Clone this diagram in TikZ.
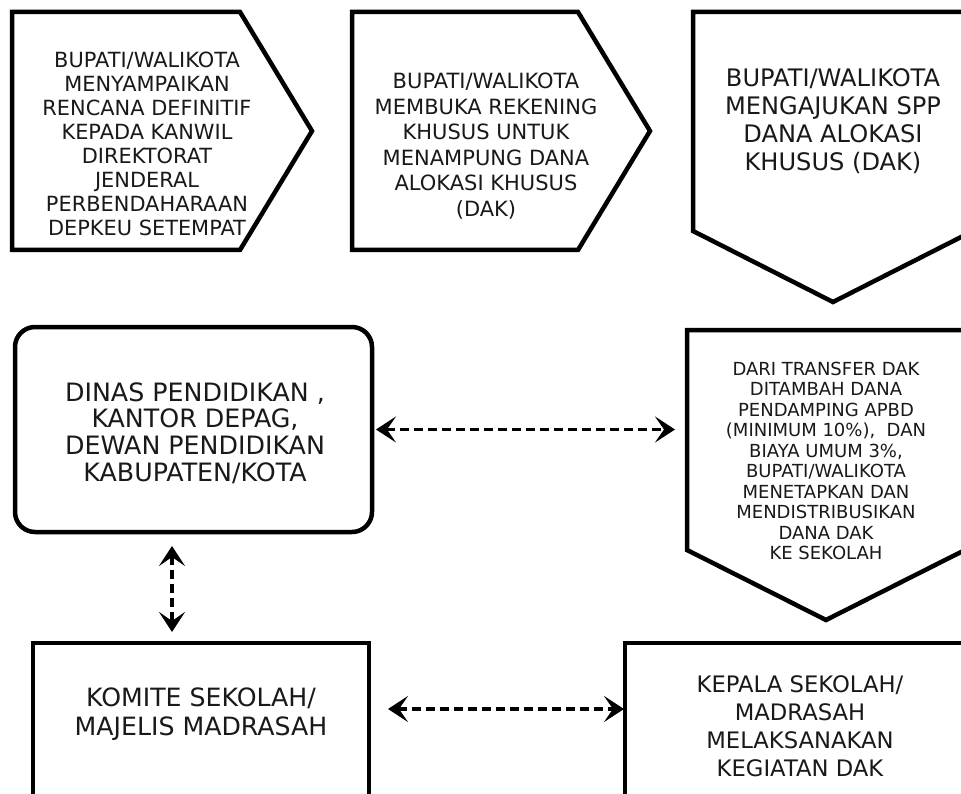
\documentclass[tikz,border=0pt]{standalone}
\usepackage{fontspec}
\setmainfont{DejaVu Sans}
\usetikzlibrary{arrows.meta}
\newcommand\fsz[2]{\fontsize{#1}{#2}\selectfont}
\begin{document}
\begin{tikzpicture}[x=1pt,y=-1pt,
  shapeline/.style={line width=4.5pt, line join=miter, draw=black},
  frame/.style={inner sep=0pt, outer sep=0pt},
  txt/.style={align=center, inner sep=0pt, text=black!90},
  link/.style={line width=3.2pt, dash pattern=on 9pt off 5pt,
    {Stealth[length=20pt,width=26pt,inset=9pt]}-{Stealth[length=20pt,width=26pt,inset=9pt]}}
]
\useasboundingbox (0,0) rectangle (961,794);
\clip (0,0) rectangle (961,794);
\fill[white] (0,0) rectangle (961,794);

% top row: pentagon arrows
\node[frame, minimum width=300pt, minimum height=238pt] (b1) at (162,131) {};
\draw[shapeline] (b1.north west) -- (240,12) -- (b1.east) -- (240,250) -- (b1.south west) -- cycle;
\node[txt, font=\fsz{20.9}{24}] (t1) at (147,144)
 {BUPATI/WALIKOTA\\MENYAMPAIKAN\\RENCANA DEFINITIF\\KEPADA KANWIL\\DIREKTORAT\\JENDERAL\\PERBENDAHARAAN\\DEPKEU SETEMPAT};

\node[frame, minimum width=298pt, minimum height=238pt] (b2) at (501,131) {};
\draw[shapeline] (b2.north west) -- (578,12) -- (b2.east) -- (578,250) -- (b2.south west) -- cycle;
\node[txt, font=\fsz{21}{25.6}] (t2) at (486,146)
 {BUPATI/WALIKOTA\\MEMBUKA REKENING\\KHUSUS UNTUK\\MENAMPUNG DANA\\ALOKASI KHUSUS\\(DAK)};

\node[frame, minimum width=280pt, minimum height=290pt] (b3) at (833,157) {};
\draw[shapeline] (b3.north west) -- (b3.north east) -- (973,231) -- (b3.south) -- (693,231) -- cycle;
\node[txt, font=\fsz{24.1}{28}] (t3) at (833,121)
 {BUPATI/WALIKOTA\\MENGAJUKAN SPP\\DANA ALOKASI\\KHUSUS (DAK)};

% middle row
\node[shapeline, frame, rounded corners=20pt, minimum width=357pt, minimum height=205pt] (dinas) at (193.5,429.5) {};
\node[txt, font=\fsz{25.3}{26.7}] (t4) at (195,433)
 {DINAS PENDIDIKAN ,\\KANTOR DEPAG,\\DEWAN PENDIDIKAN\\KABUPATEN/KOTA};

\node[frame, minimum width=278pt, minimum height=290pt] (b5) at (826,475) {};
\draw[shapeline] (b5.north west) -- (b5.north east) -- (965,550) -- (b5.south) -- (687,550) -- cycle;
\node[txt, font=\fsz{18}{20.5}] (t5) at (826,461)
 {DARI TRANSFER DAK\\DITAMBAH DANA\\PENDAMPING APBD\\(MINIMUM 10\%),\ \ DAN\\BIAYA UMUM 3\%,\\BUPATI/WALIKOTA\\MENETAPKAN DAN\\MENDISTRIBUSIKAN\\DANA DAK\\KE SEKOLAH};

% bottom row
\node[shapeline, frame, minimum width=336pt, minimum height=200pt] (komite) at (201,743) {};
\node[txt, font=\fsz{25.2}{29}] (t6) at (201,714)
 {KOMITE SEKOLAH/\\MAJELIS MADRASAH};

\node[shapeline, frame, minimum width=360pt, minimum height=200pt] (kepala) at (805,743) {};
\node[txt, font=\fsz{22.7}{28}] (t7) at (800,726)
 {KEPALA SEKOLAH/\\MADRASAH\\MELAKSANAKAN\\KEGIATAN DAK};

% connectors
\draw[link, shorten <=4pt, shorten >=12pt] (dinas.east) -- (dinas.east -| b5.west);
\draw[link, shorten <=14pt, shorten >=11pt] (dinas.south -| 172,0) -- (komite.north -| 172,0);
\draw[link, shorten <=19pt, shorten >=1pt] (komite.east |- 0,709) -- (kepala.west |- 0,709);
\end{tikzpicture}
\end{document}
